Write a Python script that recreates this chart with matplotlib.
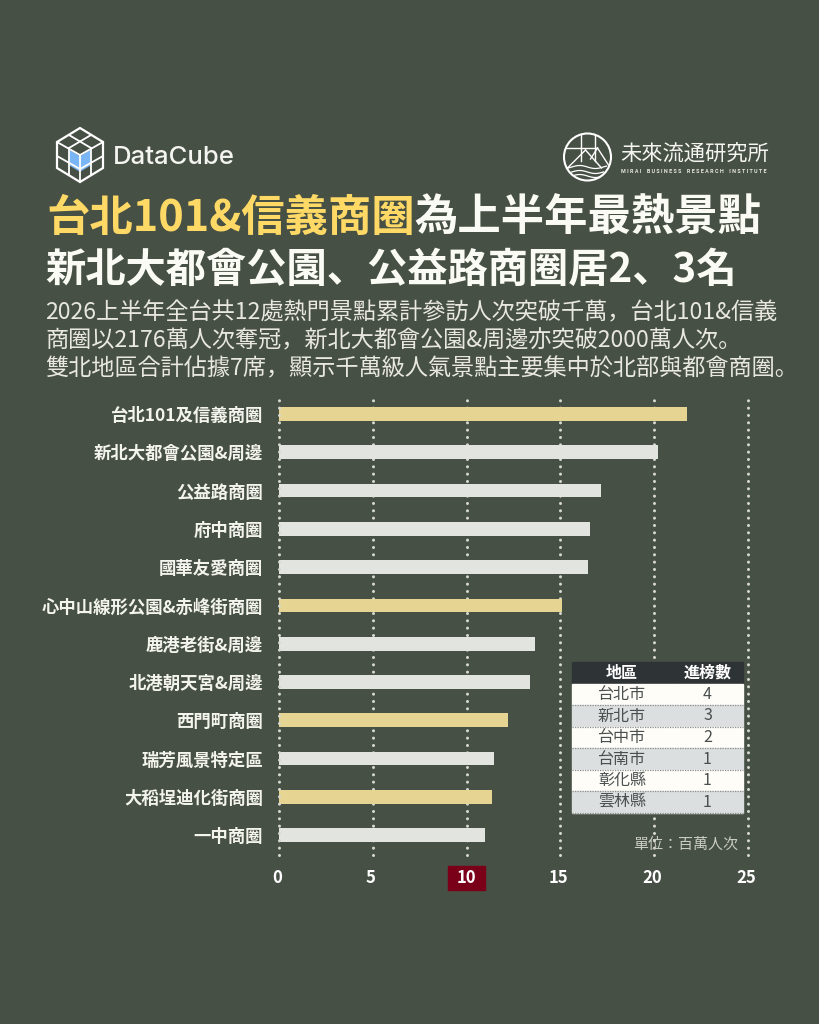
import numpy as np
import matplotlib
matplotlib.use("Agg")
import matplotlib.pyplot as plt
from matplotlib.patches import Circle, Polygon, Rectangle
from matplotlib.transforms import ScaledTranslation

plt.rcParams["font.family"] = ["Noto Sans CJK JP", "DejaVu Sans"]

# 資料
places = ["台北101及信義商圈", "新北大都會公園&周邊", "公益路商圈", "府中商圈", "國華友愛商圈",
          "心中山線形公園&赤峰街商圈", "鹿港老街&周邊", "北港朝天宮&周邊", "西門町商圈",
          "瑞芳風景特定區", "大稻埕迪化街商圈", "一中商圈"]
visitors = [21.76, 20.2, 17.15, 16.6, 16.45, 15.1, 13.65, 13.4, 12.2, 11.45, 11.35, 11.0]
is_taipei = [1, 0, 0, 0, 0, 1, 0, 0, 1, 0, 1, 0]
x_ticks = [0, 5, 10, 15, 20, 25]

table_head = ["地區", "進榜數"]
regions = ["台北市", "新北市", "台中市", "台南市", "彰化縣", "雲林縣"]
region_counts = [4, 3, 2, 1, 1, 1]

body_lines = ["2026上半年全台共12處熱門景點累計參訪人次突破千萬，台北101&信義",
              "商圈以2176萬人次奪冠，新北大都會公園&周邊亦突破2000萬人次。",
              "雙北地區合計佔據7席，顯示千萬級人氣景點主要集中於北部與都會商圈。"]

BG = "#475044"
GOLD = "#E5D492"
GRAY = "#E2E4E0"
W, H = 819, 1024

fig = plt.figure(figsize=(W / 100, H / 100), dpi=100, facecolor=BG)

# 紅底標出 10
fig.add_artist(Rectangle((448 / W, 1 - 890 / H), 37 / W, 24 / H, color="#7A0019",
                         transform=fig.transFigure, zorder=-1))

# 長條圖
ax = fig.add_axes([279 / W, 1 - 855 / H, (748 - 279) / W, (855 - 398) / H], facecolor=BG)
y = np.arange(len(places))
ax.barh(y, visitors, height=0.36, color=[GOLD if t else GRAY for t in is_taipei], zorder=2)
ax.set_xlim(0, 25)
ax.set_ylim(11.52, -0.418)
ax.set_xticks(x_ticks)
ax.set_yticks(y, places)
for s in ax.spines.values():
    s.set_visible(False)
ax.tick_params(length=0)
ax.tick_params(axis="x", pad=10, labelsize=12, labelcolor="white")
ax.tick_params(axis="y", pad=11.5, labelsize=12.5, labelcolor="#F4F4EE")
for lab in ax.get_yticklabels():
    lab.set_fontweight("bold")
for lab, t in zip(ax.get_xticklabels(), x_ticks):
    lab.set_fontweight("bold")
    dx = 0 if t == 10 else -2
    lab.set_transform(lab.get_transform() + ScaledTranslation(dx / 100, 0, fig.dpi_scale_trans))
for t in x_ticks:
    ax.axvline(t, color="#D8D9D2", lw=2.2, ls=(0, (0.01, 2.39)), dash_capstyle="round",
               zorder=3 if t == 0 else 1, clip_on=False)

# 版面文字與標誌(像素座標)
ov = fig.add_axes([0, 0, 1, 1], zorder=5)
ov.set_xlim(0, W)
ov.set_ylim(H, 0)
ov.axis("off")
ov.patch.set_alpha(0)

ov.text(46, 218, "台北101&信義商圈", color="#FFD966", fontsize=31.2, fontweight="bold", va="center")
ov.text(414, 218, "為上半年最熱景點", color="#FBFBF5", fontsize=31.2, fontweight="bold", va="center")
ov.text(45, 270, "新北大都會公園、公益路商圈居2、3名", color="#FBFBF5", fontsize=29, fontweight="bold", va="center")
for i, line in enumerate(body_lines):
    ov.text(45, 313 + i * 28, line, color="#E8E8E0", fontsize=16.7, va="center")
ov.text(738, 845, "單位：百萬人次", color="#C9CCC5", fontsize=10.8, ha="right", va="center")

# DataCube 標誌
cx, cy, r = 80, 155, 27
ov.add_patch(Polygon([(cx - 10, cy - 4), (cx, cy + 2), (cx + 10, cy - 4), (cx + 10, cy + 10),
                      (cx, cy + 16), (cx - 10, cy + 10)], color="#7AB6F5"))
ov.add_patch(Polygon([(cx, cy - r), (cx + 23, cy - 13), (cx + 23, cy + 13), (cx, cy + r),
                      (cx - 23, cy + 13), (cx - 23, cy - 13)], fill=False, ec="white", lw=1.6))
cube_lines = [((cx - 23, cy - 13), (cx, cy)), ((cx + 23, cy - 13), (cx, cy)), ((cx, cy), (cx, cy + r)),
              ((cx - 11, cy - 20), (cx + 11, cy - 7)), ((cx + 11, cy - 20), (cx - 11, cy - 7)),
              ((cx - 11, cy - 7), (cx - 11, cy + 20)), ((cx + 11, cy - 7), (cx + 11, cy + 20)),
              ((cx - 23, cy + 1), (cx, cy + 14)), ((cx + 23, cy + 1), (cx, cy + 14))]
for a, b in cube_lines:
    ov.plot([a[0], b[0]], [a[1], b[1]], color="white", lw=1.3)
ov.text(112.5, 157, "DataCube", color="#F4F4F0", fontsize=18.5, family="Inter", fontweight="medium", va="center")

# 未來流通 標誌
lx, ly = 587.5, 157
ov.add_patch(Circle((lx, ly), 23.5, fill=False, ec="white", lw=1.5))
logo_lines = [((lx - 22, ly - 9), (lx + 8, ly - 9)), ((lx - 7, ly - 22), (lx - 7, ly + 4)),
              ((lx + 7, ly - 22), (lx + 7, ly + 4)), ((lx - 20, ly + 11), (lx - 2, ly - 7)),
              ((lx - 2, ly - 7), (lx + 14, ly + 11)), ((lx + 3, ly + 2), (lx + 10, ly - 9)),
              ((lx + 10, ly - 9), (lx + 21, ly + 8))]
for a, b in logo_lines:
    ov.plot([a[0], b[0]], [a[1], b[1]], color="white", lw=1)
for k, dy in enumerate([10, 15, 19]):
    xs = np.linspace(lx - 19 + k * 3, lx + 19 - k * 3, 30)
    ov.plot(xs, ly + dy + 1.5 * np.sin((xs - lx) / 5), color="white", lw=0.9)
ov.text(620, 155, "未來流通研究所", color="#F4F4F0", fontsize=15.3, va="center")
ov.text(694, 171.5, "M I R A I    B U S I N E S S    R E S E A R C H    I N S T I T U T E", color="#E8E8E0", fontsize=3.9,
        family="Roboto", fontweight="bold", ha="center", va="center")

# 進榜數表
cells = [[a, str(b)] for a, b in zip(regions, region_counts)]
tb = ov.table(cellText=cells, colLabels=table_head, colWidths=[100 / 171, 71 / 171], cellLoc="center",
              bbox=[572 / W, 1 - 813 / H, 171 / W, 151 / H], zorder=4)
tb.auto_set_font_size(False)
for (row, col), cell in tb.get_celld().items():
    cell.set_height(1.0)
    if row == 0:
        cell.set_facecolor("#2E3436")
        cell.set_edgecolor("#2E3436")
        cell.set_text_props(color="white", fontsize=11.5, fontweight="bold")
    else:
        fill = "#FEFDF8" if row % 2 else "#DBDFE0"
        cell.set_facecolor(fill)
        cell.set_edgecolor(fill)
        cell.set_text_props(color="#4A4F4F", fontsize=11.5)
# 列與列之間的虛線
row_h = 151 / (len(regions) + 1)
for k in range(1, len(regions) + 1):
    ov.plot([572, 743], [662 + (k + 1) * row_h] * 2, color="#8A8D8A", lw=0.9, ls=(0, (1, 1)), zorder=6)

fig.savefig("out.png", dpi=100, facecolor=BG)
